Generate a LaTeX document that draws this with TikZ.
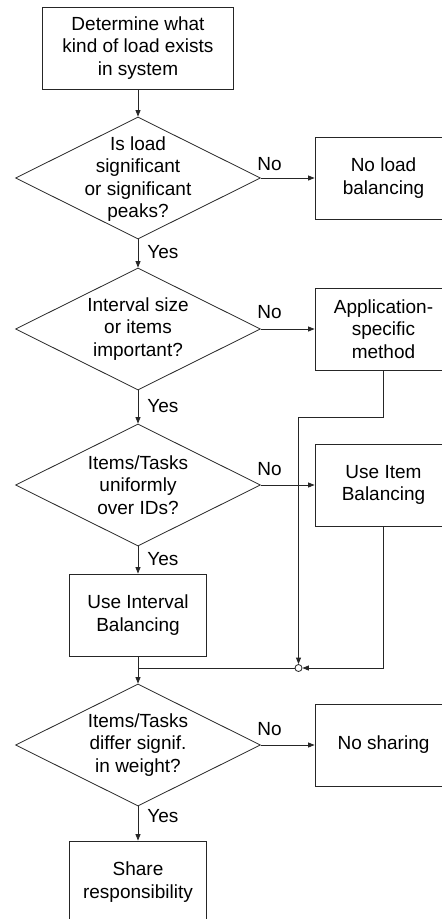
\documentclass[tikz,border=0pt]{standalone}
\usepackage{fontspec}
\setmainfont{Liberation Sans}
\usetikzlibrary{shapes.geometric,arrows.meta}
\newcommand\chartfont{\fontsize{19}{22.6}\selectfont}
\tikzset{
  box/.style={draw, rectangle, inner sep=0pt, minimum width=137pt,
    minimum height=82pt, align=center, font=\chartfont},
  decision/.style={draw, diamond, inner sep=0pt, minimum width=245pt,
    minimum height=122pt},
  dtext/.style={inner sep=0pt, align=center, font=\chartfont},
  lbl/.style={inner sep=0pt, anchor=base west, font=\chartfont},
  flow/.style={-{Triangle[length=6.5pt,width=5pt]}},
  junction/.style={draw, circle, inner sep=0pt, minimum width=6pt,
    minimum height=7pt, fill=white},
}
\begin{document}
\begin{tikzpicture}[x=1pt, y=-1pt, line width=0.8pt, draw=black!85]
\useasboundingbox (0,0) rectangle (442,919);
\clip (0,0) rectangle (442,919);

% main column
\node[box, minimum width=191pt] (start) at (138,48)
  {Determine what\\kind of load exists\\in system};
\node[decision] (d1) at (138,178) {};
\node[dtext] (d1t) at (138,179) {Is load\\significant\\or significant\\peaks?};
\node[decision] (d2) at (138,329) {};
\node[dtext] (d2t) at (138,329) {Interval size\\or items\\important?};
\node[decision] (d3) at (138,485) {};
\node[dtext] (d3t) at (138,485) {Items/Tasks\\uniformly\\over IDs?};
\node[box] (ib) at (138,615) {Use Interval\\Balancing};
\node[decision] (d4) at (138,745) {};
\node[dtext] (d4t) at (138,745) {Items/Tasks\\differ signif.\\in weight?};
\node[box] (share) at (138,882) {Share\\responsibility};

% outcomes on the right
\node[box] (r1) at (383.5,178) {No load\\balancing};
\node[box] (r2) at (383.5,329) {Application-\\specific\\method};
\node[box] (r3) at (383.5,485) {Use Item\\Balancing};
\node[box] (r4) at (383.5,745) {No sharing};

% merge point
\node[junction] (j) at (298.5,668) {};
\coordinate (bend) at (298.5,417);

% connectors
\draw[flow] (start.south) -- (d1.north);
\draw[flow] (d1.east) -- (r1.west);
\draw[flow] (d1.south) -- (d2.north);
\draw[flow] (d2.east) -- (r2.west);
\draw[flow] (d2.south) -- (d3.north);
\draw[flow] (d3.east) -- (r3.west);
\draw[flow] (d3.south) -- (ib.north);
\draw[flow] (ib.south) -- (d4.north);
\draw[flow] (d4.east) -- (r4.west);
\draw[flow] (d4.south) -- (share.north);
\draw[flow] (r2.south) |- (bend) -- (j.north);
\draw[flow] (r3.south) |- (j.east);
\draw (j.west) -- (j.west -| ib.south);

% branch labels
\node[lbl] (n1) at (257,170) {No};
\node[lbl] (n2) at (257,318) {No};
\node[lbl] (n3) at (257,475) {No};
\node[lbl] (n4) at (257,735) {No};
\node[lbl] (y1) at (147,258) {Yes};
\node[lbl] (y2) at (147,412) {Yes};
\node[lbl] (y3) at (147,565) {Yes};
\node[lbl] (y4) at (147,822) {Yes};
\end{tikzpicture}
\end{document}
